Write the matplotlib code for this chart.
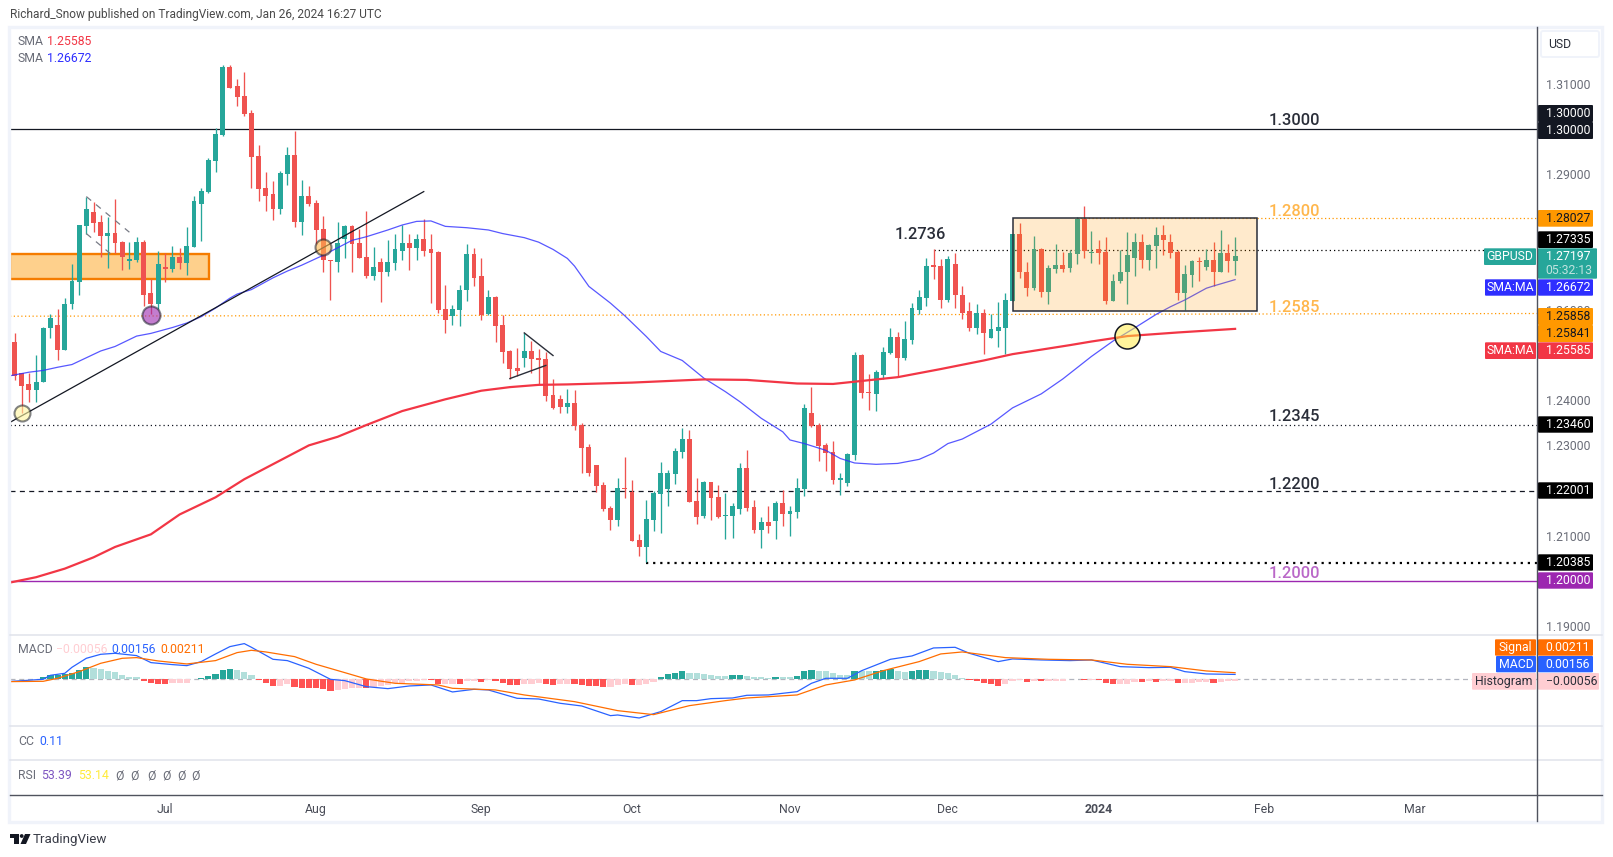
import numpy as np
import matplotlib
matplotlib.use("Agg")
from matplotlib import pyplot as plt
from matplotlib.patches import Rectangle, FancyBboxPatch, Polygon, Circle

plt.rcParams['font.family'] = ['Roboto', 'DejaVu Sans']

# daily GBPUSD candles, price x 10000
highs = [12548,12460,12460,12501,12563,12592,12601,12627,12701,12788,
         12851,12838,12810,12805,12845,12753,12750,12761,12754,12669,
         12730,12725,12741,12737,12783,12852,12870,12936,13002,13143,
         13143,13112,13127,13043,12965,12905,12885,12908,12961,12996,
         12888,12874,12843,12808,12711,12794,12789,12787,12780,12820,
         12740,12716,12754,12767,12789,12767,12767,12802,12767,12731,
         12656,12611,12656,12747,12736,12714,12645,12631,12589,12512,
         12516,12549,12532,12514,12507,12447,12412,12425,12423,12349,
         12303,12256,12219,12165,12227,12274,12223,12103,12179,12199,
         12263,12245,12294,12338,12334,12227,12221,12219,12212,12194,
         12172,12261,12290,12179,12141,12165,12176,12201,12165,12227,
         12392,12430,12350,12305,12310,12239,12283,12507,12503,12458,
         12467,12518,12561,12552,12576,12616,12645,12716,12734,12712,
         12719,12725,12654,12617,12614,12603,12592,12617,12637,12768,
         12792,12705,12763,12736,12699,12745,12728,12732,12805,12830,
         12774,12754,12761,12679,12732,12772,12770,12768,12745,12783,
         12788,12768,12732,12699,12710,12717,12734,12750,12776,12745,12761]
lows = [12444,12372,12395,12397,12440,12537,12488,12512,12603,12632,
        12768,12772,12717,12692,12727,12688,12690,12705,12608,12590,
        12601,12661,12685,12690,12677,12739,12752,12859,12905,12985,
        13092,13052,13030,12870,12841,12819,12799,12812,12876,12783,
        12765,12830,12745,12683,12623,12685,12714,12685,12714,12671,
        12667,12618,12676,12689,12711,12689,12711,12720,12616,12594,
        12549,12567,12565,12620,12654,12578,12589,12529,12483,12447,
        12454,12474,12461,12436,12398,12381,12372,12372,12334,12239,
        12232,12196,12154,12112,12121,12183,12088,12054,12041,12110,
        12107,12165,12214,12272,12174,12125,12139,12134,12139,12092,
        12094,12147,12154,12107,12072,12107,12092,12121,12099,12139,
        12187,12341,12265,12243,12214,12190,12210,12267,12405,12378,
        12376,12447,12503,12452,12489,12525,12592,12609,12668,12605,
        12617,12605,12579,12554,12546,12503,12537,12517,12503,12619,
        12670,12630,12643,12628,12614,12681,12685,12685,12701,12714,
        12703,12701,12612,12619,12659,12614,12674,12692,12688,12692,
        12721,12714,12621,12599,12650,12663,12688,12652,12685,12683,12677]
opens = [12528,12460,12435,12423,12440,12559,12566,12512,12612,12661,
         12785,12816,12794,12763,12770,12750,12708,12710,12750,12637,
         12612,12696,12690,12717,12703,12739,12834,12861,12930,12987,
         13138,13096,13074,13036,12941,12870,12856,12823,12901,12943,
         12794,12852,12836,12779,12711,12707,12758,12785,12749,12718,
         12674,12705,12685,12703,12731,12749,12736,12758,12734,12729,
         12603,12587,12600,12643,12723,12674,12592,12629,12567,12509,
         12472,12494,12509,12494,12492,12412,12403,12385,12394,12345,
         12296,12256,12212,12161,12134,12205,12196,12090,12076,12134,
         12192,12203,12236,12285,12314,12176,12143,12219,12185,12143,
         12143,12159,12250,12163,12112,12130,12132,12172,12147,12152,
         12203,12372,12345,12301,12285,12223,12216,12279,12500,12418,
         12414,12456,12505,12541,12494,12534,12600,12627,12699,12697,
         12623,12701,12634,12597,12559,12594,12537,12554,12561,12619,
         12768,12683,12648,12734,12639,12690,12699,12692,12723,12801,
         12727,12734,12728,12619,12663,12683,12714,12750,12710,12741,
         12765,12750,12728,12637,12677,12708,12694,12710,12685,12725,12708]
closes = [12453,12432,12423,12441,12561,12581,12512,12614,12663,12788,
          12823,12792,12763,12770,12748,12717,12712,12750,12634,12612,
          12701,12690,12717,12703,12741,12841,12863,12932,12990,13138,
          13092,13072,13034,12939,12868,12852,12823,12903,12943,12794,
          12852,12834,12776,12710,12709,12749,12785,12747,12716,12674,
          12696,12685,12705,12734,12749,12736,12758,12731,12727,12600,
          12578,12603,12645,12723,12671,12589,12629,12565,12507,12469,
          12465,12509,12492,12489,12409,12383,12385,12394,12343,12294,
          12239,12210,12159,12134,12205,12203,12088,12076,12136,12194,
          12239,12239,12287,12314,12174,12141,12219,12183,12141,12145,
          12165,12250,12161,12112,12130,12121,12172,12147,12154,12205,
          12383,12343,12299,12283,12223,12227,12281,12500,12416,12416,
          12463,12507,12541,12494,12536,12605,12629,12698,12694,12623,
          12712,12632,12594,12559,12594,12548,12557,12563,12621,12768,
          12683,12648,12734,12639,12692,12699,12690,12725,12801,12730,
          12728,12725,12619,12665,12685,12721,12750,12710,12743,12765,
          12754,12725,12637,12679,12708,12706,12710,12685,12725,12708,12720]

# moving averages, read at some candles only
sma50_day = [-1,2,4,6,8,10,12,14,17,19,22,24,26,28,30,31,33,36,38,40,43,47,49,52,54,56,58,
             60,63,66,68,71,73,75,77,78,80,83,85,88,90,93,96,99,101,104,107,108,110,113,115,
             117,120,123,126,128,130,132,136,139,143,146,150,153,156,159,161,163,166,167,170]
sma50 = [12453,12462,12466,12473,12479,12494,12509,12519,12542,12548,12561,12571,12585,12604,12626,
         12635,12645,12671,12686,12699,12721,12754,12762,12777,12788,12796,12797,12785,12782,12777,
         12769,12760,12750,12734,12714,12697,12652,12615,12587,12541,12508,12488,12449,12419,12397,
         12360,12330,12312,12304,12289,12271,12261,12258,12260,12269,12283,12304,12314,12347,12383,
         12414,12447,12497,12531,12560,12590,12607,12622,12648,12653,12667]
sma200_day = [-1,3,7,11,14,19,21,23,28,32,35,41,45,49,54,60,65,69,73,77,86,96,102,109,114,117,
              123,129,135,139,147,150,155,162,170]
sma200 = [11995,12008,12027,12052,12075,12103,12125,12147,12185,12225,12250,12300,12319,12345,12376,
          12402,12421,12429,12434,12435,12439,12446,12445,12437,12436,12441,12451,12469,12488,12502,
          12522,12530,12542,12550,12558]

# MACD pane, value x 100000
macd_day = [-1,4,5,7,8,10,12,14,17,19,22,24,26,28,30,32,33,36,38,41,44,46,49,52,55,58,61,64,66,70,73,76,79,83,
            84,87,90,93,95,97,100,102,105,109,111,113,116,118,122,125,128,131,133,137,139,143,147,150,154,
            158,161,163,166,170]
macd_line = [-75,0,128,192,384,672,800,832,758,534,470,437,566,811,1046,1142,1024,640,598,352,0,-43,-235,-299,
             -213,-181,-405,-320,-341,-608,-630,-768,-854,-1163,-1142,-1238,-1035,-683,-683,-619,-598,-512,
             -501,-395,-128,32,32,277,640,747,1003,1024,832,566,651,619,598,619,405,373,384,245,171,156]
signal_day = [-1,4,6,9,12,15,17,20,24,28,31,33,35,39,42,46,49,53,59,61,67,71,78,84,89,94,99,102,109,113,117,121,
              126,129,132,138,144,150,155,161,166,170]
signal_line = [-75,-64,32,245,512,672,694,587,491,598,854,928,875,726,480,213,11,-128,-181,-288,-341,-501,-715,
               -1003,-1131,-843,-683,-598,-501,-181,-21,277,566,811,875,694,640,619,480,405,267,211]
macd_hist = [21,21,11,11,64,128,149,171,203,299,
             384,373,341,267,235,149,85,75,-43,-128,
             -139,-149,-107,-107,-107,11,53,117,181,309,
             331,299,245,149,-11,-117,-203,-203,-160,-245,
             -267,-277,-288,-320,-363,-341,-309,-288,-267,-277,
             -235,-213,-192,-128,-107,-64,-53,-21,-32,-139,
             -139,-139,-149,-43,-43,-75,-32,-64,-128,-181,
             -192,-160,-139,-117,-139,-171,-139,-139,-149,-181,
             -213,-224,-235,-235,-192,-149,-171,-171,-149,-75,
             85,160,213,267,203,192,171,128,117,117,
             128,149,96,85,75,43,85,85,85,107,
             256,309,277,256,213,149,139,277,267,267,
             277,309,320,267,235,277,288,309,256,224,
             203,139,43,-32,-64,-107,-139,-203,-160,-43,
             -32,-75,-43,-64,-64,-64,-53,11,21,-21,
             -21,-32,-128,-160,-160,-139,-85,-96,-64,-75,
             -53,-53,-128,-128,-117,-96,-96,-117,-85,-64,-56]

# time axis
month_days = [21, 42, 65, 86, 108, 130, 151, 174, 195]
month_names = ['Jul', 'Aug', 'Sep', 'Oct', 'Nov', 'Dec', '2024', 'Feb', 'Mar']
price_ticks = [1.19, 1.20, 1.21, 1.22, 1.23, 1.24, 1.25, 1.26, 1.27, 1.28, 1.29, 1.30, 1.31]
hidden_ticks = [1.20, 1.22, 1.25, 1.27, 1.28, 1.30]

W, H = 1613, 857
LEFT, AXIS_X = 10, 1537
GREEN, RED = '#26a69a', '#ef5350'
GRAY = '#6a6d78'


def pane(top, bottom):
    a = fig.add_axes([LEFT / W, 1 - bottom / H, (AXIS_X - LEFT) / W, (bottom - top) / H])
    a.set_xlim(-0.63, 212.05)
    a.patch.set_alpha(0)
    for s in a.spines.values():
        s.set_visible(False)
    a.set_xticks([])
    a.set_yticks([])
    return a


fig = plt.figure(figsize=(W / 100, H / 100), dpi=100, facecolor='white')

# ---- price pane
ax = pane(27, 634.7)
ax.set_ylim(1.18807, 1.32265)
ax.yaxis.tick_right()
shown = [p for p in price_ticks if p not in hidden_ticks]
ax.set_yticks(shown)
ax.set_yticklabels(['%.5f' % p for p in shown])
ax.tick_params(axis='y', length=0, pad=6.3, labelcolor=GRAY, labelsize=8.8)

day = np.arange(len(closes))
o = np.array(opens) / 1e4
c = np.array(closes) / 1e4
h = np.array(highs) / 1e4
l = np.array(lows) / 1e4
colors = [GREEN if b >= a else RED for a, b in zip(o, c)]

# orange band under the candles
ax.add_patch(Rectangle((-0.63, 1.2669), 27.7, 0.0054, fc='#fed08c', ec='none', zorder=1))
ax.add_patch(Rectangle((-0.63, 1.2669), 27.7, 0.0054, fc='none', ec='#f57c00', lw=1.7, zorder=2.5))

# level lines
ax.axhline(1.30, color='#131722', lw=0.9, zorder=1)
ax.axhline(1.20, color='#9c27b0', lw=1, zorder=1)
ax.axhline(1.2346, color='#131722', lw=0.9, ls=(0, (1, 2.4)), zorder=1)
ax.axhline(1.22, color='#131722', lw=0.9, ls=(0, (4, 3.5)), zorder=1)
ax.plot([88, 212], [1.20385, 1.20385], color='#000000', lw=1.6, ls=(0, (1, 2.2)), zorder=1)
ax.plot([148, 212], [1.28027, 1.28027], color='#ff9800', lw=0.9, ls=(0, (1, 2)), zorder=1)
ax.plot([128, 205], [1.27335, 1.27335], color='#000000', lw=0.9, ls=(0, (1, 2.4)), zorder=1)
ax.plot([-0.63, 212], [1.2586, 1.2592], color='#ff9800', lw=0.9, ls=(0, (1, 2)), zorder=1)

# candles
ax.vlines(day, l, h, colors=colors, lw=0.95, zorder=3)
ax.bar(day, c - o, bottom=o, width=0.68, color=colors, lw=0, zorder=3.1)

# moving averages
ax.plot(sma50_day, np.array(sma50) / 1e4, color='#2e2eff', lw=0.9, alpha=0.8, zorder=4)
ax.plot(sma200_day, np.array(sma200) / 1e4, color='#f23645', lw=1.6, zorder=4)

# drawings
ax.plot([-0.63, 57], [1.2351, 1.2862], color='#131722', lw=0.9, zorder=5)
ax.plot([10, 16], [1.2851, 1.2772], color='#787b86', lw=0.9, ls=(0, (5, 5)), zorder=5)
ax.plot([10, 14], [1.2769, 1.2716], color='#787b86', lw=0.9, ls=(0, (5, 5)), zorder=5)
ax.plot([71, 75], [1.2549, 1.2499], color='#2a2e39', lw=1, zorder=5)
ax.plot([69, 74], [1.2448, 1.2477], color='#2a2e39', lw=1, zorder=5)

# the box around the range, sits above the candles
ax.add_patch(Rectangle((139.1, 1.2597), 34, 0.02057, fc='#ff9800', alpha=0.2, ec='none', zorder=6))
ax.add_patch(Rectangle((139.1, 1.2597), 34, 0.02057, fc='none', ec='#2a2e39', lw=1.1, zorder=6.1))

# circles
ax.plot(43, 1.2740, 'o', ms=11.5, mfc='#ffb74d99', mew=1.5, mec='#13172288', zorder=7)
ax.plot(1, 1.2371, 'o', ms=11.5, mfc='#fff59d99', mew=1.5, mec='#13172288', zorder=7)
ax.plot(19, 1.2589, 'o', ms=13, mfc='#9c27b099', mew=1.5, mec='#13172288', zorder=7)
ax.plot(155, 1.2542, 'o', ms=18, mfc='#ffeb3b80', mew=1.1, mec='#131722', zorder=7)

# level labels
for txt, x, y, col in [('1.3000', 178.2, 1.3020, '#2a2e39'), ('1.2800', 178.2, 1.2819, '#ffb74d'),
                       ('1.2585', 178.2, 1.2605, '#ffb74d'), ('1.2345', 178.2, 1.2364, '#2a2e39'),
                       ('1.2200', 178.2, 1.2214, '#2a2e39'), ('1.2000', 178.2, 1.2017, '#ba68c8'),
                       ('1.2736', 126.2, 1.2766, '#2a2e39')]:
    ax.text(x, y, txt, color=col, fontsize=11.8, ha='center', va='center', fontweight='medium', zorder=8)

# ---- MACD pane
ax2 = pane(634.7, 726.3)
ax2.set_ylim(-0.01504, 0.01427)
ax2.axhline(0, color='#b2b5be', lw=0.9, ls=(0, (4, 3)), zorder=1)
vals = np.array(macd_hist) / 1e5
bar_colors = []
for i, v in enumerate(vals):
    prev = vals[i - 1] if i else 0
    if v >= 0:
        bar_colors.append('#26a69a' if v > prev else '#b2dfdb')
    else:
        bar_colors.append('#ff5252' if v < prev else '#ffcdd2')
ax2.bar(day, vals, width=0.86, color=bar_colors, lw=0, zorder=2)
ax2.plot(macd_day, np.array(macd_line) / 1e5, color='#2962ff', lw=0.9, zorder=3)
ax2.plot(signal_day, np.array(signal_line) / 1e5, color='#ff6d00', lw=0.9, zorder=4)

# ---- time axis
ax3 = pane(795, 821)
ax3.set_ylim(0, 1)
ax3.set_xticks(month_days)
ax3.set_xticklabels(month_names)
ax3.tick_params(axis='x', length=0, pad=-13.3, labelcolor='#4a4d58', labelsize=8.8)
ax3.get_xticklabels()[6].set_fontweight('bold')

# ---- frame, price tags and other text in pixel space
deco = fig.add_axes([0, 0, 1, 1], zorder=10)
deco.set_xlim(0, W)
deco.set_ylim(H, 0)
deco.axis('off')

deco.add_patch(Rectangle((LEFT - 1, 26.5), 1602 - LEFT + 1, 795, fc='none', ec='#f0f3fa', lw=2.4))
for y in (634.7, 726.3, 760.3):
    deco.plot([LEFT, 1602], [y, y], color='#e0e3eb', lw=1.1)
deco.plot([LEFT, 1602], [794.5, 794.5], color='#50535e', lw=1)
deco.plot([AXIS_X, AXIS_X], [27, 821], color='#50535e', lw=1)


def tag(x0, x1, y0, y1, col, txt, tcol, left=None, weight='normal'):
    deco.add_patch(FancyBboxPatch((x0 + 1, y0 + 1), x1 - x0 - 2, y1 - y0 - 2, boxstyle='round,pad=1',
                                  fc=col, ec='none'))
    if txt:
        tx = left if left else (x0 + x1) / 2
        deco.text(tx, (y0 + y1) / 2, txt, color=tcol, fontsize=8.8, fontweight=weight,
                  ha='left' if left else 'center', va='center')


R0, R1 = 1538, 1593
TX = 1545.7
tag(R0, R1, 105, 122, '#131722', '1.30000', 'white', TX)
tag(R0, R1, 122, 139, '#131722', '1.30000', 'white', TX)
tag(R0, R1, 210, 226.7, '#ff9800', '1.28027', '#131722', TX)
tag(R0, R1, 231.3, 248, '#000000', '1.27335', 'white', TX)
tag(R0, 1597, 248.3, 278.7, '#26a69a', '', 'white')
deco.text(TX, 256.7, '1.27197', color='white', fontsize=8.8, va='center')
deco.text(TX, 270.7, '05:32:13', color='#bfe3df', fontsize=8.8, va='center')
tag(1484, 1536, 248.3, 265, '#26a69a', 'GBPUSD', 'white')
tag(1485, 1536, 279.3, 295.7, '#2e2eff', 'SMA:MA', 'white')
tag(R0, R1, 279.3, 295.7, '#2e2eff', '1.26672', 'white', TX)
tag(R0, R1, 308, 325, '#ff9800', '1.25858', '#131722', TX)
tag(R0, R1, 325, 342, '#ff9800', '1.25841', '#131722', TX)
tag(1485, 1536, 342.3, 359, '#f23645', 'SMA:MA', 'white')
tag(R0, R1, 342.3, 359, '#f23645', '1.25585', 'white', TX)
tag(R0, R1, 416.3, 432.7, '#000000', '1.23460', 'white', TX)
tag(R0, R1, 482.3, 498.7, '#000000', '1.22001', 'white', TX)
tag(R0, R1, 554.3, 570.7, '#000000', '1.20385', 'white', TX)
tag(R0, R1, 572.3, 588.7, '#9c27b0', '1.20000', 'white', TX)
tag(1495, 1536, 639.3, 655.7, '#ff6d00', 'Signal', 'white')
tag(R0, R1, 639.3, 655.7, '#ff6d00', '0.00211', 'white', TX)
tag(1496, 1536, 656, 672.3, '#2962ff', 'MACD', 'white')
tag(R0, R1, 656, 672.3, '#2962ff', '0.00156', 'white', TX)
tag(1472, 1536, 673, 689.7, '#ffcdd2', 'Histogram', '#2a2e39')
tag(R0, 1599, 673, 689.7, '#ffcdd2', '\u22120.00056', '#2a2e39', TX)

# USD button
deco.add_patch(FancyBboxPatch((1543, 33), 54, 22, boxstyle='round,pad=2', fc='white', ec='#f0f3fa', lw=1.4))
deco.text(1560, 44, 'USD', color='#2a2e39', fontsize=8.8, ha='center', va='center')

# header and legends
deco.text(10, 14.7, 'Richard_Snow published on TradingView.com, Jan 26, 2024 16:27 UTC',
          color='#4a4a4a', fontsize=8.6, va='center')
LEG = 8.8
for txt, x, y, col in [('SMA', 18, 41.7, GRAY), ('1.25585', 47, 41.7, '#f23645'),
                       ('SMA', 18, 58.7, GRAY), ('1.26672', 47, 58.7, '#2e2eff'),
                       ('MACD', 18, 649.3, GRAY), ('\u22120.00056', 56, 649.3, '#ffcdd2'),
                       ('0.00156', 111.5, 649.3, '#2962ff'), ('0.00211', 160.5, 649.3, '#ff6d00'),
                       ('CC', 18, 741.7, GRAY), ('0.11', 39.5, 741.7, '#2962ff'),
                       ('RSI', 18, 775.7, GRAY), ('53.39', 41.5, 775.7, '#7e57c2'),
                       ('53.14', 78, 775.7, '#ffeb3b')]:
    deco.text(x, y, txt, color=col, fontsize=LEG, va='center')
for x in (115.4, 130.4, 147, 162, 177, 191.7):
    deco.text(x, 775.7, '\u00d8', color=GRAY, fontsize=LEG, va='center')

# TradingView logo
deco.add_patch(Polygon([(10, 834), (19, 834), (19, 844), (14, 844), (14, 838), (10, 838)], fc='#131722', ec='none'))
deco.add_patch(Circle((21.7, 836), 1.9, fc='#131722', ec='none'))
deco.add_patch(Polygon([(25, 834), (30.5, 834), (26, 844), (20.5, 844)], fc='#131722', ec='none'))
deco.text(33, 839, 'TradingView', color='#3a3d48', fontsize=9.6, va='center')

fig.savefig('out.png', dpi=100)
